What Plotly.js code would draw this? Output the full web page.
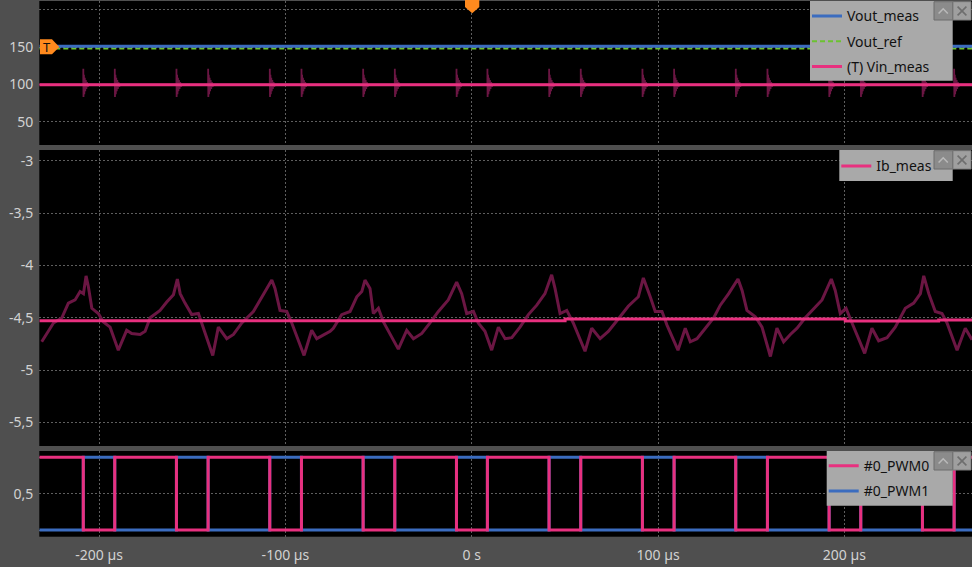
<!DOCTYPE html>
<html><head><meta charset="utf-8">
<script src="https://cdn.plot.ly/plotly-3.0.1.min.js"></script>
<style>html,body{margin:0;padding:0;background:#4f4f4f;overflow:hidden}#chart{width:972px;height:567px}</style>
</head><body><div id="chart"></div>
<script>
// ---------- data ----------
const xTickVals = [-200, -100, 0, 100, 200];
const xTickText = ['-200 µs', '-100 µs', '0 s', '100 µs', '200 µs'];
const timeSpan = [-232.1, 268.5];

const voutMeasT = [-232.1, 268.5];
const voutMeasV = [151.2, 151.2];
const voutRefT = [-232.1, 268.5];
const voutRefV = [148.4, 148.4];
const vinMeasT = [-232.1, 268.5];
const vinMeasV = [99.5, 99.5];

// spike profile on the raw Vin trace (offset in µs, value in V)
const vinSpikeOffsets = [0, 0.02, 0.12, 0.35, 0.55, 0.8, 1.05, 1.35, 1.65, 2.0, 2.4, 2.8];
const vinSpikeValues  = [100, 121, 83, 113, 87, 109, 91, 106, 94, 103, 97, 100];

// PWM edges (µs)
const pwmTimes = [-232.1, -208.5, -191.6, -158.5, -141.5, -108.4, -91.4, -58.3, -41.3, -8.2, 8.4,
                  41.5, 58.5, 91.6, 108.6, 141.7, 158.7, 191.8, 208.8, 241.9, 258.9, 268.5];
const pwm0 = [1,0,1,0,1,0,1,0,1,0,1,0,1,0,1,0,1,0,1,0,1,1];
const pwm1 = [0,1,0,1,0,1,0,1,0,1,0,1,0,1,0,1,0,1,0,1,0,0];

// Ib raw (µs, A)
const ibRawT = [-230.8,-224.5,-220.0,-216.5,-212.9,-210.2,-208.4,-207.0,-205.8,-203.9,-200.4,-197.7,-194.1,-189.7,
  -185.2,-182.5,-178.0,-175.3,-172.6,-167.3,-163.7,-160.1,-158.0,-156.5,-153.9,-150.3,-146.7,-144.9,-141.4,-139.0,
  -136.0,-131.5,-127.9,-123.4,-117.2,-111.8,-107.3,-105.6,-102.9,-99.3,-96.6,-90.0,-85.9,-83.2,-78.7,-76.0,
  -74.3,-69.8,-65.3,-61.7,-59.0,-57.3,-54.6,-52.8,-50.1,-47.4,-39.4,-34.9,-31.3,-26.8,-22.4,-17.9,-12.6,-8.1,
  -5.4,-2.7,0.9,3.5,7.1,10.7,14.3,17.9,21.5,25.9,30.4,34.9,39.3,42.9,44.7,47.4,51.0,54.5,60.8,64.4,68.9,73.3,
  79.6,84.0,89.4,92.1,95.8,98.5,102.1,104.8,110.7,114.6,117.3,120.9,125.4,129.9,133.4,137.9,142.9,145.1,147.7,
  152.2,155.8,160.3,163.8,167.4,171.0,174.6,179.0,182.6,188.0,193.0,195.1,197.8,200.9,204.1,210.9,214.8,218.4,
  222.9,227.3,232.7,237.2,240.8,242.6,245.3,248.8,252.4,255.1,260.5,264.9,268.5];
const ibRawV = [-4.73,-4.55,-4.50,-4.36,-4.33,-4.25,-4.27,-4.10,-4.20,-4.41,-4.46,-4.54,-4.59,-4.81,
  -4.62,-4.65,-4.66,-4.63,-4.50,-4.43,-4.35,-4.28,-4.13,-4.27,-4.36,-4.47,-4.46,-4.55,-4.74,-4.86,
  -4.59,-4.70,-4.66,-4.55,-4.44,-4.27,-4.14,-4.22,-4.43,-4.44,-4.55,-4.86,-4.62,-4.70,-4.66,-4.63,
  -4.60,-4.47,-4.44,-4.30,-4.25,-4.14,-4.22,-4.46,-4.41,-4.54,-4.80,-4.62,-4.70,-4.65,-4.55,-4.44,-4.33,-4.16,
  -4.27,-4.46,-4.44,-4.55,-4.63,-4.81,-4.59,-4.70,-4.69,-4.59,-4.47,-4.38,-4.27,-4.09,-4.22,-4.46,-4.43,-4.55,-4.82,-4.60,-4.70,-4.63,
  -4.49,-4.39,-4.30,-4.12,-4.30,-4.44,-4.44,-4.57,-4.81,-4.60,-4.73,-4.70,-4.60,-4.50,-4.38,-4.27,-4.13,-4.24,-4.43,
  -4.49,-4.59,-4.87,-4.60,-4.73,-4.66,-4.60,-4.50,-4.43,-4.33,-4.13,-4.24,-4.46,-4.41,-4.55,-4.84,-4.60,-4.72,
  -4.69,-4.59,-4.41,-4.36,-4.27,-4.10,-4.27,-4.44,-4.46,-4.55,-4.81,-4.60,-4.71];

// Ib_meas (filtered)
const ibMeasT = [-232.1, 50.1, 200.5, 250.6, 268.5];
const ibMeasV = [-4.528, -4.512, -4.531, -4.522, -4.522];

const topTicks = [50, 100, 150, 200];
const topTickText = ['50', '100', '150', ''];
const midTicks = [-5.5, -5, -4.5, -4, -3.5, -3];
const midTickText = ['-5,5', '-5', '-4,5', '-4', '-3,5', '-3'];
const botTicks = [0, 0.5, 1];
const botTickText = ['', '0,5', ''];

// ---------- build ----------
const W = 972, H = 567;
const px = x => x / W, py = y => 1 - y / H;
const dom = (t, b) => [1 - b / H, 1 - t / H];

const PINK = '#e8307f', BLUE = '#3b6cbf', GREEN = '#6cc231', MAROON = '#6b1643';

const vinRawT = [timeSpan[0]], vinRawV = [100];
pwmTimes.slice(1, -1).forEach(t0 => {
  vinSpikeOffsets.forEach((o, i) => { vinRawT.push(t0 + o); vinRawV.push(vinSpikeValues[i]); });
});
vinRawT.push(timeSpan[1]); vinRawV.push(100);

const traces = [
  {x: vinRawT, y: vinRawV, xaxis: 'x2', yaxis: 'y', mode: 'lines', line: {color: MAROON, width: 1.8}, showlegend: false, hoverinfo: 'skip'},
  {x: vinMeasT, y: vinMeasV, xaxis: 'x2', yaxis: 'y', mode: 'lines', name: '(T) Vin_meas', legend: 'legend', legendgroup: 'g3', legendrank: 3, line: {color: PINK, width: 3}},
  {x: voutRefT, y: voutRefV, xaxis: 'x2', yaxis: 'y', mode: 'lines', name: 'Vout_ref', legend: 'legend', legendgroup: 'g2', legendrank: 2, line: {color: GREEN, width: 2, dash: '5px,3px'}},
  {x: voutMeasT, y: voutMeasV, xaxis: 'x2', yaxis: 'y', mode: 'lines', name: 'Vout_meas', legend: 'legend', legendgroup: 'g1', legendrank: 1, line: {color: BLUE, width: 3}},

  {x: ibRawT, y: ibRawV, xaxis: 'x3', yaxis: 'y2', mode: 'lines', line: {color: MAROON, width: 3}, showlegend: false, hoverinfo: 'skip'},
  {x: ibMeasT, y: ibMeasV, xaxis: 'x3', yaxis: 'y2', mode: 'lines', line: {color: PINK, width: 3, shape: 'hv'}, name: 'Ib_meas', legend: 'legend2'},

  {x: pwmTimes, y: pwm1, xaxis: 'x', yaxis: 'y3', mode: 'lines', line: {color: BLUE, width: 3, shape: 'hv'}, name: '#0_PWM1', legend: 'legend3', legendgroup: 'p1', legendrank: 2},
  {x: pwmTimes, y: pwm0, xaxis: 'x', yaxis: 'y3', mode: 'lines', line: {color: PINK, width: 3, shape: 'hv'}, name: '#0_PWM0', legend: 'legend3', legendgroup: 'p0', legendrank: 1}
];

const FONT = 'Noto Sans, Open Sans, sans-serif';
const GRID = '#5e5e5e';
const xBase = {range: timeSpan, domain: [px(39.3), 1], tickvals: xTickVals, ticktext: xTickText,
  showgrid: true, gridcolor: GRID, griddash: '2px,2px', gridwidth: 1, zeroline: false, showline: false,
  ticks: '', ticklabelstandoff: 8, fixedrange: true, tickfont: {family: FONT, size: 14, color: '#d2d2d2'}};
const yBase = {showgrid: true, gridcolor: GRID, griddash: '2px,2px', gridwidth: 1, zeroline: false, showline: false,
  ticks: '', ticklabelstandoff: 5, tickfont: {family: FONT, size: 14, color: '#d2d2d2'}, anchor: 'x'};

const legBase = {bgcolor: 'rgba(0,0,0,0)', borderwidth: 0, font: {family: FONT, size: 14, color: '#111'},
  xanchor: 'left', yanchor: 'top', traceorder: 'grouped', tracegroupgap: 4};

const shapes = [];
const annotations = [];
function rect(x0, y0, x1, y1, fill, line) {
  shapes.push({type: 'rect', xref: 'paper', yref: 'paper', x0: px(x0), x1: px(x1), y0: py(y1), y1: py(y0),
    fillcolor: fill, line: {color: line || fill, width: line ? 1 : 0}, layer: 'above'});
}
function path(pts, opts) {
  const d = pts.map((p, i) => (i ? 'L' : 'M') + px(p[0]) + ',' + py(p[1])).join(' ') + (opts.close ? ' Z' : '');
  shapes.push(Object.assign({type: 'path', xref: 'paper', yref: 'paper', path: d, layer: 'above'}, opts.s));
}
function legendBox(l, t, b) {
  rect(l, t, 952.7, b, '#a9a9a9');
  rect(934, t + 0.7, 952.5, t + 19, '#8b8b8b', '#6d6d6d');
  rect(953, t + 0.7, 971, t + 19, '#9f9f9f', '#7d7d7d');
  const cy = t + 10;
  path([[938.6, cy + 2.5], [943.2, cy - 2.2], [947.8, cy + 2.5]], {s: {line: {color: '#b9b9b9', width: 1.6}}});
  path([[957.6, cy - 4.4], [966.4, cy + 4.4]], {s: {line: {color: '#6e6e6e', width: 1.6}}});
  path([[966.4, cy - 4.4], [957.6, cy + 4.4]], {s: {line: {color: '#6e6e6e', width: 1.6}}});
}
legendBox(810, 1, 80.7);
legendBox(839.3, 150, 181);
legendBox(826.7, 451, 505.7);

// trigger markers
path([[40, 39.3], [52, 39.3], [59.3, 47], [52, 54.3], [40, 54.3]], {close: true, s: {fillcolor: '#ff8a1e', line: {width: 0}}});
path([[465, 0], [479.3, 0], [479.3, 7], [472.2, 13.3], [465, 7]], {close: true, s: {fillcolor: '#ff8a1e', line: {width: 0}}});
annotations.push({xref: 'paper', yref: 'paper', x: px(46.5), y: py(47), text: 'T', showarrow: false,
  font: {family: FONT, size: 13, color: '#111'}, xanchor: 'center', yanchor: 'middle'});

const layout = {
  width: W, height: H,
  margin: {l: 0, r: 0, t: 0, b: 0, pad: 0},
  paper_bgcolor: '#4f4f4f', plot_bgcolor: '#000000',
  showlegend: true,
  xaxis: Object.assign({}, xBase, {anchor: 'y3'}),
  xaxis2: Object.assign({}, xBase, {anchor: 'y', showticklabels: false}),
  xaxis3: Object.assign({}, xBase, {anchor: 'y2', showticklabels: false}),
  yaxis: Object.assign({}, yBase, {anchor: 'x2', domain: dom(1, 145), range: [18.7, 212], tickvals: topTicks, ticktext: topTickText}),
  yaxis2: Object.assign({}, yBase, {anchor: 'x3', domain: dom(150, 446), range: [-5.725, -2.898], tickvals: midTicks, ticktext: midTickText}),
  yaxis3: Object.assign({}, yBase, {anchor: 'x', domain: dom(451, 536.7), range: [-0.092, 1.087], tickvals: botTicks, ticktext: botTickText}),
  legend: Object.assign({}, legBase, {x: px(807), y: py(0.4)}),
  legend2: Object.assign({}, legBase, {x: px(836.3), y: py(150.4)}),
  legend3: Object.assign({}, legBase, {x: px(823.7), y: py(450.1)}),
  shapes: shapes,
  annotations: annotations
};

Plotly.newPlot('chart', traces, layout, {displayModeBar: false, staticPlot: true});
</script>
</body></html>
